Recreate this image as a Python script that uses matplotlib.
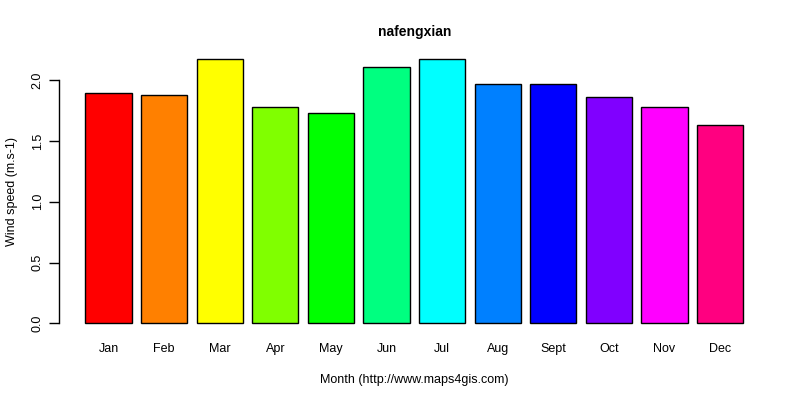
import numpy as np
import matplotlib
matplotlib.use('Agg')
import matplotlib.pyplot as plt

plt.rcParams['font.family'] = ['Liberation Sans', 'DejaVu Sans']

months = ['Jan', 'Feb', 'Mar', 'Apr', 'May', 'Jun', 'Jul', 'Aug', 'Sept', 'Oct', 'Nov', 'Dec']
wind = [1.89, 1.88, 2.17, 1.78, 1.73, 2.11, 2.17, 1.97, 1.97, 1.86, 1.78, 1.63]
colors = ['#FF0000', '#FF8000', '#FFFF00', '#80FF00', '#00FF00', '#00FF80',
          '#00FFFF', '#0080FF', '#0000FF', '#8000FF', '#FF00FF', '#FF0080']
yticks = [0.0, 0.5, 1.0, 1.5, 2.0]

fig = plt.figure(figsize=(8, 4), dpi=100)
ax = fig.add_axes([0.07375, 0.165, 0.962 - 0.07375, 0.878 - 0.165])

# R style barplot: width 1, space 0.2
x = 0.2 + np.arange(len(wind)) * 1.2 + 0.5
ax.bar(x, wind, width=1.0, color=colors, edgecolor='black', linewidth=1.0)

xr = (0.2, x[-1] + 0.5)
ext = (xr[1] - xr[0]) * 0.04
ax.set_xlim(xr[0] - ext, xr[1] + ext)
yext = max(wind) * 0.04
ax.set_ylim(-yext, max(wind) + yext)

for s in ['top', 'right', 'bottom']:
    ax.spines[s].set_visible(False)
ax.spines['left'].set_bounds(0, 2.0)
ax.spines['left'].set_linewidth(1.0)

ax.set_yticks(yticks)
ax.set_yticklabels(['%.1f' % v for v in yticks], rotation=90, va='center', fontsize=9)
ax.tick_params(axis='y', length=7, width=1.0, pad=4)

ax.set_xticks(x)
ax.set_xticklabels(months, fontsize=9)
ax.tick_params(axis='x', length=0, pad=6.5)

ax.set_title('nafengxian', fontsize=10, fontweight='bold', pad=9)
ax.set_xlabel('Month (http://www.maps4gis.com)', fontsize=9, labelpad=13.5)
ax.set_ylabel('Wind speed (m.s-1)', fontsize=9, labelpad=10)

fig.savefig('out.png', dpi=100)
